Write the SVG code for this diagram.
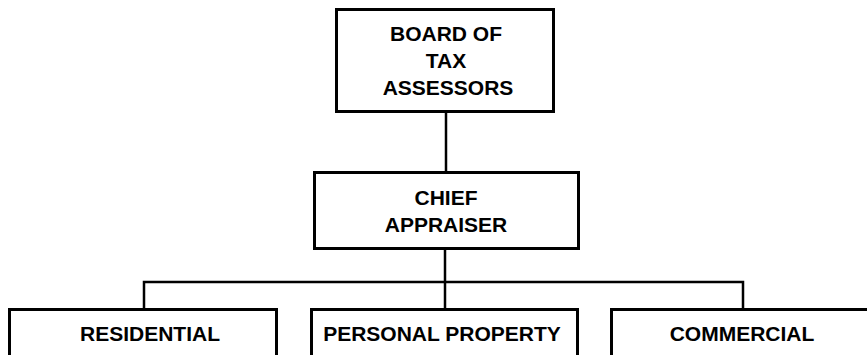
<svg xmlns="http://www.w3.org/2000/svg" width="867" height="355" viewBox="0 0 867 355">
  <style>
    .box { fill: #ffffff; stroke: #000000; stroke-width: 3; }
    .lbl { font-family: "Liberation Sans", Arial, sans-serif; font-weight: bold; font-size: 21px; fill: #000000; text-anchor: middle; }
    .wire { fill: none; stroke: #000000; stroke-width: 2.5; }
  </style>
  <rect width="867" height="355" fill="#ffffff"/>

  <!-- reporting lines -->
  <g id="connectors">
    <line class="wire" x1="446" y1="112" x2="446" y2="172"/>
    <line class="wire" x1="445" y1="249" x2="445" y2="282"/>
    <polyline class="wire" points="144,309 144,282 743,282 743,309"/>
    <line class="wire" x1="445" y1="282" x2="445" y2="309"/>
  </g>

  <g id="board">
    <rect class="box" x="336.5" y="9.5" width="217" height="102"/>
    <text class="lbl" x="446" y="40.5">BOARD OF</text>
    <text class="lbl" x="446" y="67.5">TAX</text>
    <text class="lbl" x="448" y="94.5">ASSESSORS</text>
  </g>

  <g id="chief">
    <rect class="box" x="314.5" y="172.5" width="264" height="76"/>
    <text class="lbl" x="446" y="204.5">CHIEF</text>
    <text class="lbl" x="446" y="231.5">APPRAISER</text>
  </g>

  <g id="residential">
    <rect class="box" x="9.5" y="309.5" width="267" height="60"/>
    <text class="lbl" x="150" y="340.5">RESIDENTIAL</text>
  </g>

  <g id="personal">
    <rect class="box" x="311.5" y="309.5" width="266" height="60"/>
    <text class="lbl" x="442" y="340.5">PERSONAL PROPERTY</text>
  </g>

  <g id="commercial">
    <rect class="box" x="611.5" y="309.5" width="280" height="60"/>
    <text class="lbl" x="742" y="340.5">COMMERCIAL</text>
  </g>
</svg>
